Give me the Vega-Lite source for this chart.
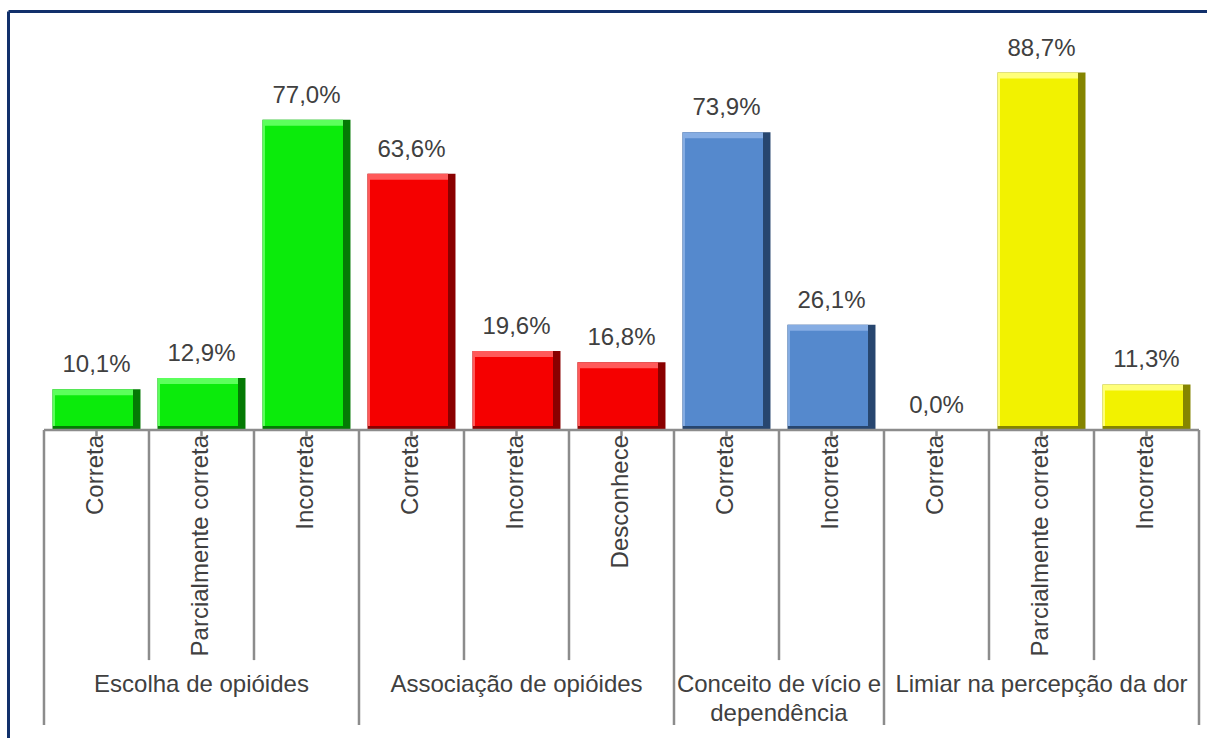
{
  "$schema": "https://vega.github.io/schema/vega-lite/v6.json",
  "width": 1199,
  "height": 727,
  "autosize": {"type": "none"},
  "padding": {"left": 8, "top": 11, "right": 0, "bottom": 0},
  "background": "white",
  "config": {
    "view": {"stroke": null},
    "locale": {"number": {"decimal": ",", "thousands": ".", "grouping": [3], "currency": ["R$", ""]}},
    "text": {"font": "Liberation Sans", "fontSize": 24, "color": "#404040"}
  },
  "datasets": {
    "bars": [
      {"id": "1", "cat": "Correta", "group": "Escolha de opióides", "value": 0.101},
      {"id": "2", "cat": "Parcialmente correta", "group": "Escolha de opióides", "value": 0.129},
      {"id": "3", "cat": "Incorreta", "group": "Escolha de opióides", "value": 0.770},
      {"id": "4", "cat": "Correta", "group": "Associação de opióides", "value": 0.636},
      {"id": "5", "cat": "Incorreta", "group": "Associação de opióides", "value": 0.196},
      {"id": "6", "cat": "Desconhece", "group": "Associação de opióides", "value": 0.168},
      {"id": "7", "cat": "Correta", "group": "Conceito de vício e dependência", "value": 0.739},
      {"id": "8", "cat": "Incorreta", "group": "Conceito de vício e dependência", "value": 0.261},
      {"id": "9", "cat": "Correta", "group": "Limiar na percepção da dor", "value": 0.0},
      {"id": "10", "cat": "Parcialmente correta", "group": "Limiar na percepção da dor", "value": 0.887},
      {"id": "11", "cat": "Incorreta", "group": "Limiar na percepção da dor", "value": 0.113}
    ],
    "groups": [
      {"id": "2", "label": ["Escolha de opióides"]},
      {"id": "5", "label": ["Associação de opióides"]},
      {"id": "8", "label": ["Conceito de vício e", "dependência"]},
      {"id": "10", "label": ["Limiar na percepção da dor"]}
    ],
    "edges": [
      {"id": "1", "kind": "long"},
      {"id": "2", "kind": "short"},
      {"id": "3", "kind": "short"},
      {"id": "4", "kind": "long"},
      {"id": "5", "kind": "short"},
      {"id": "6", "kind": "short"},
      {"id": "7", "kind": "long"},
      {"id": "8", "kind": "short"},
      {"id": "9", "kind": "long"},
      {"id": "10", "kind": "short"},
      {"id": "11", "kind": "short"},
      {"id": "11", "kind": "end"}
    ]
  },
  "encoding": {
    "x": {
      "field": "id",
      "type": "nominal",
      "sort": null,
      "scale": {
        "domain": ["1", "2", "3", "4", "5", "6", "7", "8", "9", "10", "11"],
        "paddingInner": 0,
        "paddingOuter": 0.2095,
        "align": 0.818
      },
      "axis": {
        "orient": "top",
        "domain": true,
        "domainColor": "#11306B",
        "domainWidth": 3,
        "ticks": false,
        "labels": false,
        "grid": false,
        "title": null
      }
    }
  },
  "resolve": {"scale": {"color": "independent"}},
  "layer": [
    {
      "data": {"name": "bars"},
      "transform": [{"filter": "datum.value > 0"}],
      "mark": {"type": "bar", "width": {"band": 0.838}},
      "encoding": {
        "y": {
          "field": "value",
          "type": "quantitative",
          "scale": {"domain": [-0.7643, 1.0397], "nice": false, "zero": false},
          "axis": {
            "orient": "left",
            "domain": true,
            "domainColor": "#11306B",
            "domainWidth": 3,
            "ticks": false,
            "labels": false,
            "grid": false,
            "title": null
          }
        },
        "y2": {"datum": 0},
        "color": {
          "field": "group",
          "type": "nominal",
          "scale": {
            "domain": ["Escolha de opióides", "Associação de opióides", "Conceito de vício e dependência", "Limiar na percepção da dor"],
            "range": ["#057A05", "#8A0000", "#27466F", "#858500"]
          },
          "legend": null
        }
      }
    },
    {
      "data": {"name": "bars"},
      "transform": [{"filter": "datum.value > 0"}],
      "mark": {"type": "bar", "width": {"band": 0.767}, "xOffset": -3.75, "y2Offset": -4},
      "encoding": {
        "y": {"field": "value", "type": "quantitative"},
        "y2": {"datum": 0},
        "color": {
          "field": "group",
          "type": "nominal",
          "scale": {
            "domain": ["Escolha de opióides", "Associação de opióides", "Conceito de vício e dependência", "Limiar na percepção da dor"],
            "range": ["#5CFF5C", "#FF5A5A", "#86ADE3", "#FFFF7A"]
          },
          "legend": null
        }
      }
    },
    {
      "data": {"name": "bars"},
      "transform": [{"filter": "datum.value > 0"}],
      "mark": {"type": "bar", "width": {"band": 0.743}, "xOffset": -2.5, "yOffset": 6, "y2Offset": -4},
      "encoding": {
        "y": {"field": "value", "type": "quantitative"},
        "y2": {"datum": 0},
        "color": {
          "field": "group",
          "type": "nominal",
          "scale": {
            "domain": ["Escolha de opióides", "Associação de opióides", "Conceito de vício e dependência", "Limiar na percepção da dor"],
            "range": ["#0BEB0B", "#F50000", "#5589CD", "#F2F200"]
          },
          "legend": null
        }
      }
    },
    {
      "data": {"name": "bars"},
      "mark": {"type": "text", "baseline": "alphabetic", "align": "center", "dy": -17, "font": "Liberation Sans", "fontSize": 24, "color": "#404040"},
      "encoding": {
        "y": {"field": "value", "type": "quantitative"},
        "text": {"field": "value", "type": "quantitative", "format": ".1%"}
      }
    },
    {
      "data": {"name": "bars"},
      "mark": {"type": "tick", "orient": "horizontal", "size": 105, "thickness": 2.5, "color": "#8C8C8C", "opacity": 1},
      "encoding": {
        "y": {"datum": 0}
      }
    },
    {
      "data": {"name": "bars"},
      "mark": {"type": "rule", "color": "#8C8C8C", "strokeWidth": 2.5},
      "encoding": {
        "y": {"datum": 0},
        "y2": {"datum": -0.015}
      }
    },
    {
      "data": {"name": "edges"},
      "transform": [{"filter": "datum.kind == 'short'"}],
      "mark": {"type": "rule", "color": "#8C8C8C", "strokeWidth": 2.5},
      "encoding": {
        "x": {"field": "id", "type": "nominal", "sort": null, "bandPosition": 0},
        "y": {"datum": 0},
        "y2": {"datum": -0.571}
      }
    },
    {
      "data": {"name": "edges"},
      "transform": [{"filter": "datum.kind == 'long'"}],
      "mark": {"type": "rule", "color": "#8C8C8C", "strokeWidth": 2.5},
      "encoding": {
        "x": {"field": "id", "type": "nominal", "sort": null, "bandPosition": 0},
        "y": {"datum": 0},
        "y2": {"datum": -0.732}
      }
    },
    {
      "data": {"name": "edges"},
      "transform": [{"filter": "datum.kind == 'end'"}],
      "mark": {"type": "rule", "color": "#8C8C8C", "strokeWidth": 2.5},
      "encoding": {
        "x": {"field": "id", "type": "nominal", "sort": null, "bandPosition": 1},
        "y": {"datum": 0},
        "y2": {"datum": -0.732}
      }
    },
    {
      "data": {"name": "bars"},
      "mark": {"type": "text", "angle": 270, "align": "right", "baseline": "middle", "font": "Liberation Sans", "fontSize": 24, "color": "#404040"},
      "encoding": {
        "y": {"datum": -0.0124},
        "text": {"field": "cat", "type": "nominal"}
      }
    },
    {
      "data": {"name": "groups"},
      "transform": [{"filter": "datum.id != '8'"}],
      "mark": {"type": "text", "align": "center", "baseline": "alphabetic", "lineHeight": 29, "font": "Liberation Sans", "fontSize": 24, "color": "#404040"},
      "encoding": {
        "y": {"datum": -0.65},
        "text": {"field": "label", "type": "nominal"}
      }
    },
    {
      "data": {"name": "groups"},
      "transform": [{"filter": "datum.id == '8'"}],
      "mark": {"type": "text", "align": "center", "baseline": "alphabetic", "lineHeight": 29, "font": "Liberation Sans", "fontSize": 24, "color": "#404040"},
      "encoding": {
        "x": {"field": "id", "type": "nominal", "sort": null, "bandPosition": 0},
        "y": {"datum": -0.65},
        "text": {"field": "label", "type": "nominal"}
      }
    }
  ]
}
